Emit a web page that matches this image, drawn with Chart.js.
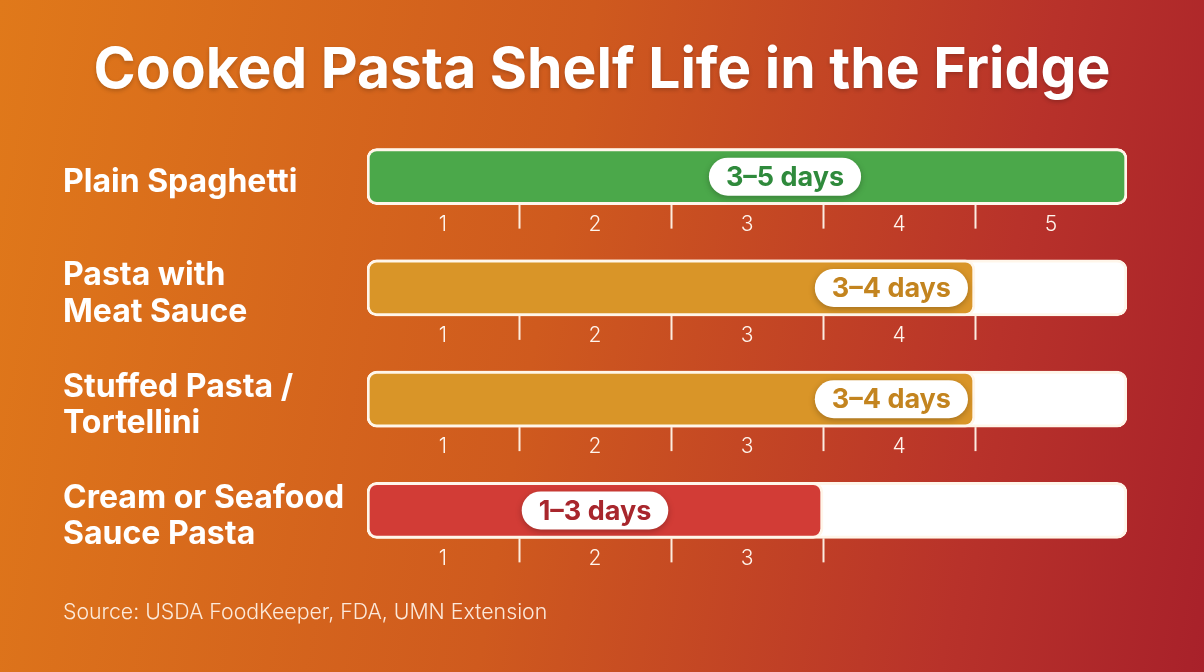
<!DOCTYPE html>
<html lang="en">
<head>
  <meta charset="UTF-8" />
  <title>Cooked Pasta Shelf Life in the Fridge</title>
  <script src="https://cdn.jsdelivr.net/npm/chart.js"></script>
  <style>
    html, body {
      margin: 0;
      padding: 0;
      width: 1204px;
      height: 672px;
      overflow: hidden;
      background: linear-gradient(100deg, #e0791a 0%, #cf5a1e 45%, #b8322a 80%, #a8212a 100%);
    }
    canvas { display: block; }
  </style>
</head>
<body>
  <canvas id="shelfChart" width="1204" height="672"></canvas>

  <script>
    const title = "Cooked Pasta Shelf Life in the Fridge";
    const source = "Source: USDA FoodKeeper, FDA, UMN Extension";
    const foods = [
      ["Plain Spaghetti"],
      ["Pasta with", "Meat Sauce"],
      ["Stuffed Pasta /", "Tortellini"],
      ["Cream or Seafood", "Sauce Pasta"]
    ];
    const maxDays = [5, 4, 4, 3];
    const rangeLabels = ["3–5 days", "3–4 days", "3–4 days", "1–3 days"];
    const labelAt = [2.75, 3.45, 3.45, 1.5];   // where the pill sits, in days
    const scaleMax = 5;

    const barColors = ["#4ba84a", "#d99528", "#d23c36"];
    const pillText = ["#2f8a3c", "#c3841f", "#a8262c"];
    const colorIdx = [0, 1, 1, 2];

    // ticks/numbers under each bar, pills, title and source
    const extras = {
      id: "extras",
      afterDatasetsDraw(chart) {
        const ctx = chart.ctx;
        const x = chart.scales.x;
        const track = chart.getDatasetMeta(1).data;
        ctx.save();
        track.forEach((bar, i) => {
          const bottom = bar.y + bar.height / 2;
          ctx.strokeStyle = "rgba(255,246,234,0.95)";
          ctx.lineWidth = 2;
          for (let d = 1; d <= Math.min(maxDays[i], scaleMax - 1); d++) {
            const px = Math.round(x.getPixelForValue(d)) + 0.5;
            ctx.beginPath();
            ctx.moveTo(px, bottom);
            ctx.lineTo(px, bottom + 24);
            ctx.stroke();
          }
          ctx.fillStyle = "#fff6ee";
          ctx.font = "300 21px Inter, 'Open Sans', sans-serif";
          ctx.textAlign = "center";
          ctx.textBaseline = "middle";
          for (let d = 1; d <= maxDays[i]; d++) {
            ctx.fillText(String(d), x.getPixelForValue(d - 0.5), bottom + 20);
          }
          ctx.font = "bold 27px Inter, 'Open Sans', sans-serif";
          const tw = ctx.measureText(rangeLabels[i]).width;
          const pw = tw + 34, ph = 38;
          const cx = x.getPixelForValue(labelAt[i]);
          ctx.save();
          ctx.shadowColor = "rgba(0,0,0,0.25)";
          ctx.shadowBlur = 6;
          ctx.shadowOffsetY = 2;
          ctx.fillStyle = "#ffffff";
          ctx.beginPath();
          ctx.roundRect(cx - pw / 2, bar.y - ph / 2, pw, ph, ph / 2);
          ctx.fill();
          ctx.restore();
          ctx.fillStyle = pillText[colorIdx[i]];
          ctx.fillText(rangeLabels[i], cx, bar.y + 1);
        });
        ctx.restore();
      },
      afterDraw(chart) {
        const ctx = chart.ctx;
        ctx.save();
        ctx.fillStyle = "#ffffff";
        ctx.shadowColor = "rgba(0,0,0,0.2)";
        ctx.shadowBlur = 4;
        ctx.shadowOffsetY = 2;
        ctx.font = "bold 57px Inter, 'Open Sans', sans-serif";
        ctx.textAlign = "center";
        ctx.textBaseline = "middle";
        ctx.fillText(title, 602, 71);
        ctx.shadowColor = "transparent";
        ctx.fillStyle = "rgba(255,244,234,0.92)";
        ctx.font = "300 21.3px Inter, 'Open Sans', sans-serif";
        ctx.textAlign = "left";
        ctx.fillText(source, 63, 613);
        ctx.restore();
      }
    };

    new Chart(document.getElementById("shelfChart"), {
      type: "bar",
      data: {
        labels: foods,
        datasets: [
          {
            label: "Days",
            data: maxDays,
            backgroundColor: colorIdx.map(c => barColors[c]),
            borderColor: "#fff6ea",
            borderWidth: 3,
            borderRadius: 10,
            borderSkipped: false,
            barThickness: 56,
            grouped: false,
            order: 0
          },
          {
            label: "Track",
            data: maxDays.map(() => scaleMax),
            backgroundColor: "#ffffff",
            borderColor: "#fff6ea",
            borderWidth: 3,
            borderRadius: 10,
            borderSkipped: false,
            barThickness: 56,
            grouped: false,
            order: 1
          }
        ]
      },
      options: {
        indexAxis: "y",
        responsive: false,
        animation: false,
        devicePixelRatio: 1,
        layout: { padding: { left: 63, right: 77, top: 121, bottom: 106 } },
        plugins: {
          legend: { display: false },
          tooltip: { enabled: false },
          title: { display: false }
        },
        scales: {
          x: { display: false, min: 0, max: scaleMax },
          y: {
            grid: { display: false },
            border: { display: false },
            afterFit(scale) { scale.width = 304; },
            ticks: {
              color: "#ffffff",
              crossAlign: "far",
              padding: 0,
              labelOffset: 6,
              font: { family: "Inter, 'Open Sans', sans-serif", size: 32, weight: "bold", lineHeight: 1.13 }
            }
          }
        }
      },
      plugins: [extras]
    });
  </script>
</body>
</html>
